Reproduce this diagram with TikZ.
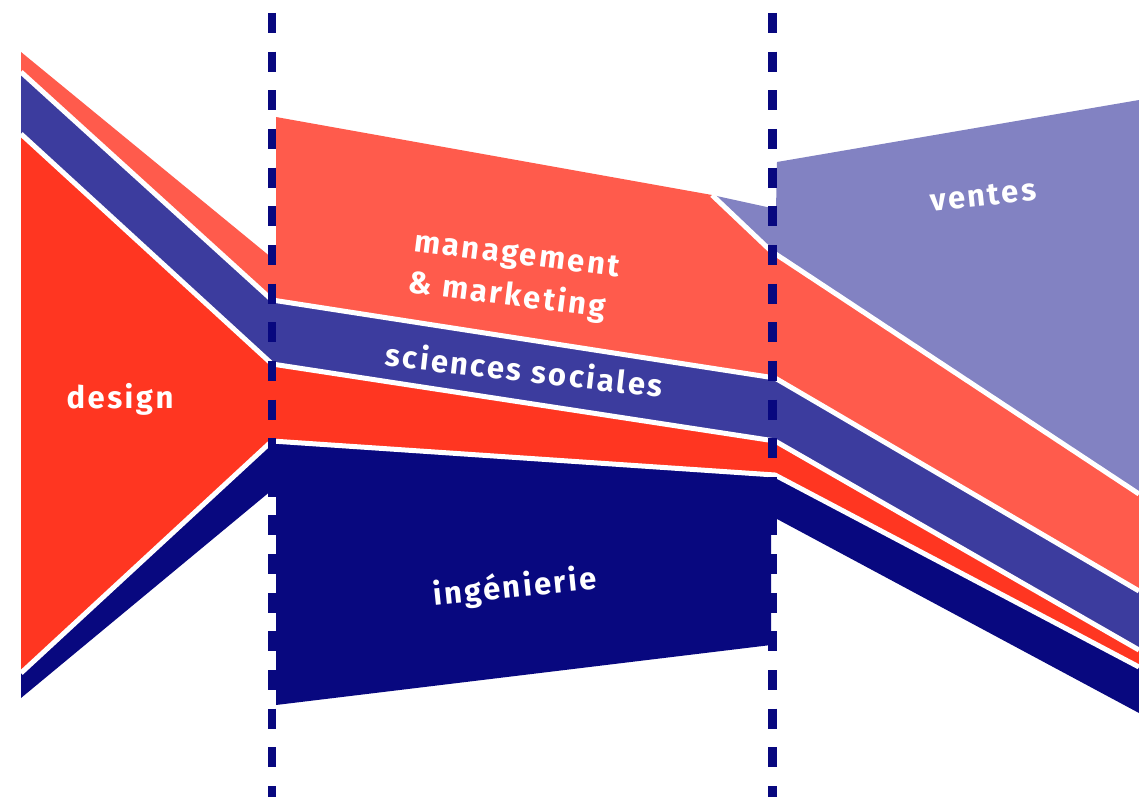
\documentclass[tikz,border=0pt]{standalone}
\usepackage{fontspec}
\newfontfamily\lbl{Fira Sans}[LetterSpace=8]
\definecolor{salmon}{HTML}{FF5B4C}
\definecolor{designred}{HTML}{FF3621}
\definecolor{midblue}{HTML}{3C3C9E}
\definecolor{navy}{HTML}{08087F}
\definecolor{peri}{HTML}{8282C2}
\tikzset{
  sep/.style={draw=white, line width=5pt, line join=miter},
  dashline/.style={draw=navy, line width=8.5pt, dash pattern=on 20pt off 18.65pt},
  lab/.style={text=white, font=\lbl\bfseries\fontsize{31}{42}\selectfont, inner sep=0pt, anchor=base}
}
\begin{document}
\begin{tikzpicture}[x=1pt,y=-1pt]
\useasboundingbox (0,0) rectangle (1139,800);
% flows
\fill[salmon] (21,52) -- (272,258) -- (276,258) -- (276,117) -- (712,195) -- (771,251) -- (1139,494) -- (1139,591) -- (775,378) -- (272,300) -- (21,72) -- cycle;
\fill[peri] (712,195) -- (776,209) -- (777,162) -- (1139,100) -- (1139,494) -- (771,251) -- cycle;
\fill[midblue] (21,72) -- (272,300) -- (775,378) -- (1139,591) -- (1139,650) -- (775,441) -- (272,364) -- (21,134) -- cycle;
\fill[designred] (21,134) -- (272,364) -- (775,441) -- (1139,650) -- (1139,667) -- (775,475) -- (272,441) -- (21,673) -- cycle;
\fill[navy] (21,673) -- (272,441) -- (775,475) -- (1139,667) -- (1139,713) -- (777,519) -- (771,519) -- (771,645) -- (276,705) -- (276,490) -- (272,490) -- (21,698) -- cycle;
% white separators
\draw[sep] (21,72) -- (272,300) -- (775,378) -- (1139,591);
\draw[sep] (21,134) -- (272,364) -- (775,441) -- (1139,650);
\draw[sep] (21,673) -- (272,441) -- (775,475) -- (1139,667);
\draw[sep] (712,195) -- (771,251) -- (1139,494);
% dashed dividers
\coordinate (d1top) at (272,13);
\coordinate (d1bot) at (272,797);
\coordinate (d2top) at (772.5,13);
\coordinate (d2bot) at (772.5,797);
\draw[dashline] (d1top) -- (d1bot);
\draw[dashline] (d2top) -- (d2bot);
% labels
\node[lab] (design) at (120,408) {design};
\node[lab, anchor=center, align=left, rotate=-7.2] (mgmt) at (514,278) {management\\\& marketing};
\node[lab, rotate=-6.5] (socio) at (523,381.6) {sciences sociales};
\node[lab, rotate=6] (ventes) at (984,205.6) {ventes};
\node[lab, rotate=5.7] (inge) at (516,597.2) {ingénierie};
\end{tikzpicture}
\end{document}
